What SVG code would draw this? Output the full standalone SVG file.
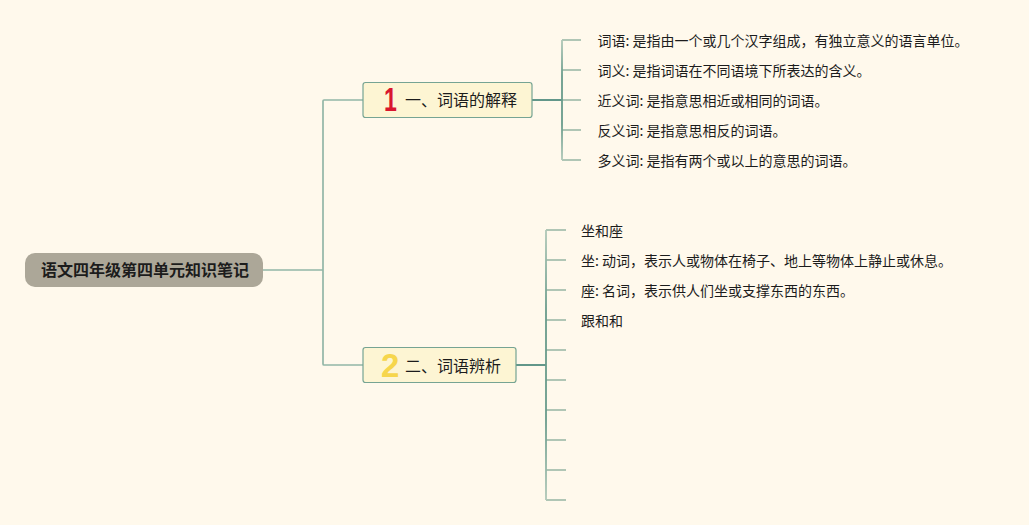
<svg xmlns="http://www.w3.org/2000/svg" width="1029" height="525" viewBox="0 0 1029 525">
<style>
text{font-family:"Noto Sans CJK SC","Noto Sans",sans-serif;fill:#1c1c1c}
.leaf{font-size:14px}
.b{font-size:16px}
.box{fill:#fdf5d3;stroke:#76a493;stroke-width:1.2}
.tick{fill:none;stroke:#b0c6b5;stroke-width:1.8}
.main{fill:none;stroke:#93b7a7;stroke-width:1.7}
.dark{fill:none;stroke:#62978a;stroke-width:2.200}
.icon{font-family:"Liberation Sans",sans-serif;font-weight:700;font-size:33px}
</style>
<defs>
<linearGradient id="g1" gradientUnits="userSpaceOnUse" x1="0" y1="40" x2="0" y2="160">
<stop offset="0" stop-color="#b0c8b8"/><stop offset=".3" stop-color="#689b8b"/><stop offset=".7" stop-color="#689b8b"/><stop offset="1" stop-color="#b0c8b8"/>
</linearGradient>
<linearGradient id="g2" gradientUnits="userSpaceOnUse" x1="0" y1="230" x2="0" y2="500">
<stop offset="0" stop-color="#b0c8b8"/><stop offset=".3" stop-color="#689b8b"/><stop offset=".7" stop-color="#689b8b"/><stop offset="1" stop-color="#b0c8b8"/>
</linearGradient>
</defs>
<rect width="1029" height="525" fill="#fff9ec"/>
<g id="connectors">
<path class="main" d="M263 270H323M363 100H324Q323 100 323 101V364Q323 365 324 365H363"/>
<path class="tick" d="M581 40H562M562 70H581M562 100H581M562 130H581M581 160H562"/>
<path class="tick" d="M566 230H546M546 260H566M546 290H566M546 320H566M546 350H566M546 380H566M546 410H566M546 440H566M546 470H566M566 500H546"/>
<path class="dark" d="M532 100H562M516 365H546"/>
<path fill="none" stroke="url(#g1)" stroke-width="1.800" d="M562 40V160"/>
<path fill="none" stroke="url(#g2)" stroke-width="1.800" d="M546 230V500"/>
</g>
<g id="root">
<rect x="25" y="253" width="238" height="34" rx="10" fill="#aca798"/>
<text x="41" y="276" font-size="16" font-weight="700" fill="#111">语文四年级第四单元知识笔记</text>
</g>
<g id="branch1">
<rect class="box" x="363" y="82.500" width="169" height="35" rx="2.500"/>
<text class="icon" transform="translate(384 111) scale(.7 1)" style="fill:#d9162e">1</text>
<text class="b" x="405" y="106">一、词语的解释</text>
</g>
<g id="branch2">
<rect class="box" x="363" y="347.500" width="153" height="35" rx="2.500"/>
<text class="icon" x="381" y="376.500" style="fill:#f6d64c">2</text>
<text class="b" x="405" y="372">二、词语辨析</text>
</g>
<g id="leaf-1"><text class="leaf" x="597.500" y="46">词语: 是指由一个或几个汉字组成，有独立意义的语言单位。</text></g>
<g id="leaf-2"><text class="leaf" x="597.500" y="76">词义: 是指词语在不同语境下所表达的含义。</text></g>
<g id="leaf-3"><text class="leaf" x="597.500" y="106">近义词: 是指意思相近或相同的词语。</text></g>
<g id="leaf-4"><text class="leaf" x="597.500" y="136">反义词: 是指意思相反的词语。</text></g>
<g id="leaf-5"><text class="leaf" x="597.500" y="166">多义词: 是指有两个或以上的意思的词语。</text></g>
<g id="leaf-6"><text class="leaf" x="581" y="236">坐和座</text></g>
<g id="leaf-7"><text class="leaf" x="581" y="266">坐: 动词，表示人或物体在椅子、地上等物体上静止或休息。</text></g>
<g id="leaf-8"><text class="leaf" x="581" y="296">座: 名词，表示供人们坐或支撑东西的东西。</text></g>
<g id="leaf-9"><text class="leaf" x="581" y="326">跟和和</text></g>
</svg>
